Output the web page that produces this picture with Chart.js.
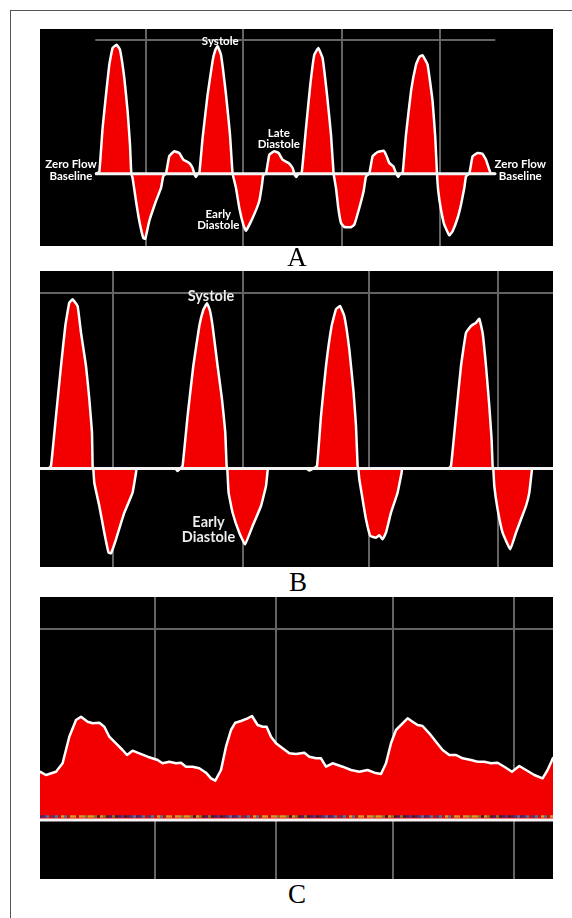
<!DOCTYPE html>
<html>
<head>
<meta charset="utf-8">
<script src="https://cdn.jsdelivr.net/npm/chart.js@4.4.1/dist/chart.umd.min.js"></script>
<style>
  html, body { margin: 0; padding: 0; background: #ffffff; }
  body { width: 572px; height: 918px; position: relative; overflow: hidden; }
  #frame { position: absolute; left: 10px; top: 10px; width: 700px; height: 1000px;
           border-left: 1.5px solid #555; border-top: 1.5px solid #555; }
  canvas { position: absolute; }
  .cap { position: absolute; width: 60px; text-align: center; font-family: "Liberation Serif", "Times New Roman", serif;
         font-size: 27px; line-height: 27px; color: #000; }
</style>
</head>
<body>
<div id="frame"></div>
<canvas id="chartA" width="513" height="217" style="left:40px;top:29px;"></canvas>
<div class="cap" style="left:267px;top:244px;">A</div>
<canvas id="chartB" width="513" height="296" style="left:40px;top:271px;"></canvas>
<div class="cap" style="left:268px;top:569px;">B</div>
<canvas id="chartC" width="513" height="282" style="left:40px;top:597px;"></canvas>
<div class="cap" style="left:267px;top:881px;">C</div>
<script>
// ---------- Panel A : tri-phasic waveform (time, velocity above zero-flow baseline) ----------
const A_t = [56, 59.3, 62.6, 66, 69.3, 72.6, 76.6, 80, 84.3, 87.6, 90, 91.3, 92.6, 96, 99.3, 103.3, 105.3, 109.3, 116, 121, 123.3, 126, 129.3, 134.3, 139.3, 143.3, 149.3, 152.6, 154.3, 156, 157.8, 159.3, 162.6, 167.6, 172.6, 175.3, 177.6, 181, 186, 190, 192.6, 196, 199.3, 203.3, 206, 212.6, 219.3, 222, 223.3, 226, 229.3, 234.3, 238.6, 242.6, 248.6, 252.6, 254.3, 256.3, 258.3, 261.6, 266, 270.3, 274.3, 278.3, 282.6, 287, 291, 293.6, 296, 298.3, 301, 304.3, 311, 314.3, 319.3, 323.6, 326, 329.3, 332.6, 337.6, 343.6, 346, 349.3, 353.3, 356, 358.3, 360.3, 362.6, 366, 371, 376, 379.3, 382.6, 387.6, 392.6, 395.3, 397, 398.3, 401, 404.3, 409.3, 412.6, 417.6, 421, 424.3, 426, 429.3, 432.6, 437.6, 442.6, 446, 449.3, 451, 455.3];
const A_v = [0, 1.7, 45.7, 79, 109, 125.7, 129, 124, 95.7, 62.7, 29, 0, -4.3, -27.3, -47.3, -64.3, -65, -47.3, -27.3, -14.3, -2.3, 0, 17.7, 22.4, 20.7, 14, 10.7, 5.7, 0, -3.3, 0, 0, 35.7, 79, 112.7, 123.7, 127.4, 119, 79, 39, 0, -14.3, -34.3, -51, -57, -44.3, -27.3, -11, -1, 0, 19, 22.4, 20.7, 14, 10.7, 5.7, 0, -3.3, 0, 0, 45.7, 89, 119, 125.7, 115.7, 79, 39, 0, -14.3, -34.3, -49.3, -53.3, -53.6, -51, -34.3, -17.6, -2.6, 0, 17.4, 21.7, 23, 19, 10.7, 7.4, 0.7, -3.3, 0, 0, 39, 82.4, 109, 116.7, 118.4, 109, 72.4, 35.7, 0, -17.6, -36, -51, -61.6, -57.6, -44.3, -31, -14.3, -2.6, 0, 17.4, 20.7, 19.7, 14, 4, 0, 0];
const A_gridT = [106, 203.3, 301.6, 400];
const A_gridV = [134];
const A_lineSpan = [55.3, 455.3];
const A_labels = [
  { text: ["Systole"], t: 180.3, v: 132.4 },
  { text: ["Late", "Diastole"], t: 238.8, v: 40.7 },
  { text: ["Early", "Diastole"], t: 178.3, v: -40.3 },
  { text: ["Zero Flow", "Baseline"], t: 31, v: 9 },
  { text: ["Zero Flow", "Baseline"], t: 480.3, v: 9 }
];

// ---------- Panel B : bi-phasic waveform ----------
const B_t = [0, 8.3, 11, 16, 21, 25.3, 29.3, 32.6, 37.6, 41, 46, 49.3, 52, 52.6, 53.3, 54.3, 59.3, 64.3, 68.6, 71, 76, 84.3, 92.6, 96, 96.8, 135.3, 137.6, 140.3, 142.6, 147.6, 153.3, 159.3, 163.3, 167, 169.8, 172.6, 177.6, 182, 185.3, 186.6, 187.3, 188.6, 192.6, 199.3, 205, 212.6, 221, 226, 227.6, 228.1, 266.3, 269.3, 273.3, 277, 281, 286, 291.6, 296, 300, 304.3, 309.3, 313.6, 316, 317.6, 318.3, 319.3, 322.6, 326, 330.3, 336, 339.3, 342.6, 346, 351, 357.6, 361.6, 362.3, 408.3, 411, 416, 421, 426, 431, 436, 439.3, 442.6, 446, 449.3, 451.6, 452.6, 453.3, 454.3, 457.6, 462.6, 470.3, 476, 481, 486, 489.3, 491.6, 492.3, 513];
const B_v = [0, 0, 2.5, 52.5, 102.5, 142.5, 165.8, 169.2, 162.5, 135.8, 102.5, 69.5, 35.8, 2.5, 0, -14.2, -37.5, -64.2, -84.2, -84.8, -70.8, -44.2, -24.2, -4.2, 0, 0, -2.5, 0, 2.5, 52.5, 102.5, 142.5, 158.5, 165.2, 158.5, 142.5, 102.5, 69.2, 35.8, 2.5, 0, -24.2, -44.2, -64.2, -75.8, -57.5, -37.5, -17.5, -2.5, 0, 0, -2, 0, 2.5, 52.5, 102.5, 142.5, 159.2, 162.5, 152.5, 119.2, 75.8, 42.5, 2.5, 0, -10.8, -30.8, -50.8, -67.5, -69.2, -66.8, -70.8, -64.2, -44.2, -24.2, -4.2, 0, 0, 2.5, 52.5, 102.5, 135.8, 142.5, 145.8, 149.8, 135.8, 102.5, 62.5, 29.2, 2.5, 0, -17.5, -40.8, -64.2, -80.8, -64.2, -50.8, -37.5, -24.2, -4.2, 0, 0];
const B_gridT = [73.3, 202.6, 329.3, 458];
const B_gridV = [175.8];
const B_labels = [
  { text: ["Systole"], t: 171, v: 172.5 },
  { text: ["Early", "Diastole"], t: 168.5, v: -54.2 }
];

// ---------- Panel C : monophasic waveform ----------
const C_t = [0, 6, 16, 22.6, 29.3, 36, 41, 47.6, 52.6, 59.3, 64.3, 69.3, 76, 82.6, 87, 92.6, 99.3, 107.6, 117.6, 122.6, 129.3, 136, 141, 146, 152.6, 159.3, 166, 171, 175.3, 181, 186, 191, 195.3, 201, 207.6, 212, 217.6, 222.6, 226.6, 231, 236, 242.6, 249.3, 256, 264.3, 269.3, 276, 281, 286, 292.6, 302.6, 311, 319.3, 327.6, 334.3, 341, 346, 351, 356, 362.6, 367.6, 372.6, 377.6, 382.6, 389.3, 396, 402.6, 409.3, 416, 422.6, 431, 437.6, 444.3, 451, 457.6, 464.3, 472, 479.3, 486, 494.3, 502.6, 507.6, 513];
const C_v = [48.3, 45, 48.3, 56.7, 83.3, 100, 103.3, 98.3, 96.7, 97.3, 93.3, 83.3, 76.7, 70, 65, 69.3, 66.7, 63.3, 60, 56.7, 58.3, 56.7, 57.3, 53.3, 53.3, 51.7, 47.3, 41.7, 39.3, 50, 73.3, 90, 97.3, 99, 101.7, 104, 95, 93.3, 93.3, 83.3, 76.7, 71.7, 66.7, 66, 67.3, 63.3, 61.7, 61.7, 53.3, 56.7, 53.3, 50, 48.3, 50, 47.3, 46, 56.7, 76.7, 90, 96.7, 101.7, 98.3, 95, 94, 86.7, 78.3, 70, 65, 65, 61.7, 60, 58.3, 58.3, 56.7, 57.3, 53.3, 48.3, 54, 50, 45, 41.7, 50, 62];
const C_gridT = [115, 236, 353.3, 473.6];
const C_gridV = [191];
const C_noiseColors = ["#1a2a8a", "#d8c020", "#20a0b0", "#202020", "#c8c850", "#2040b0", "#50a050", "#a02020"];

function makePanel(id, opt) {
  const pts = opt.t.map((t, i) => ({ x: t, y: opt.v[i] }));
  const decor = {
    id: 'decor_' + id,
    beforeDraw(chart) {
      const { ctx } = chart;
      ctx.save();
      ctx.fillStyle = '#000';
      ctx.fillRect(0, 0, chart.width, chart.height);
      ctx.restore();
    },
    beforeDatasetsDraw(chart) {
      const { ctx, chartArea: a, scales: { x, y } } = chart;
      ctx.save();
      ctx.strokeStyle = '#646464';
      ctx.lineWidth = 2;
      opt.gridT.forEach(g => {
        const px = Math.round(x.getPixelForValue(g));
        ctx.beginPath(); ctx.moveTo(px, a.top); ctx.lineTo(px, a.bottom); ctx.stroke();
      });
      opt.gridV.forEach(g => {
        const py = Math.round(y.getPixelForValue(g));
        const x0 = opt.span ? x.getPixelForValue(opt.span[0]) : a.left;
        const x1 = opt.span ? x.getPixelForValue(opt.span[1]) : a.right;
        ctx.beginPath(); ctx.moveTo(x0, py); ctx.lineTo(x1, py); ctx.stroke();
      });
      ctx.restore();
    },
    afterDatasetsDraw(chart) {
      const { ctx, chartArea: a, scales: { x, y } } = chart;
      ctx.save();
      if (opt.noise) {
        const py = y.getPixelForValue(opt.noise.v);
        ctx.lineWidth = 2.5;
        let k = 0;
        for (let t = x.min; t < x.max; t += 3) {
          ctx.strokeStyle = opt.noise.colors[(k * 5 + (k >> 2)) % opt.noise.colors.length];
          ctx.globalAlpha = 0.75;
          ctx.beginPath();
          ctx.moveTo(x.getPixelForValue(t), py);
          ctx.lineTo(x.getPixelForValue(t + 3), py);
          ctx.stroke();
          k++;
        }
        ctx.globalAlpha = 1;
      }
      // zero-flow baseline
      const by = y.getPixelForValue(0);
      const bx0 = opt.span ? x.getPixelForValue(opt.span[0]) : a.left;
      const bx1 = opt.span ? x.getPixelForValue(opt.span[1]) : a.right;
      ctx.strokeStyle = '#f4f4f4';
      ctx.lineWidth = 3;
      ctx.beginPath(); ctx.moveTo(bx0, by); ctx.lineTo(bx1, by); ctx.stroke();
      // labels
      if (opt.labels) {
        ctx.fillStyle = opt.labelColor;
        ctx.font = 'bold ' + opt.fontSize + 'px Lato, "Open Sans", sans-serif';
        ctx.textAlign = 'center';
        ctx.textBaseline = 'middle';
        opt.labels.forEach(l => {
          const px = x.getPixelForValue(l.t);
          const py = y.getPixelForValue(l.v);
          l.text.forEach((s, i) => ctx.fillText(s, px, py + i * opt.lineH));
        });
      }
      ctx.restore();
    }
  };
  return new Chart(document.getElementById(id), {
    type: 'line',
    data: {
      datasets: [{
        data: pts,
        fill: 'origin',
        backgroundColor: '#f20000',
        borderColor: '#ffffff',
        borderWidth: 2.5,
        borderJoinStyle: 'round',
        borderCapStyle: 'round',
        pointRadius: 0,
        tension: opt.tension
      }]
    },
    options: {
      responsive: false,
      animation: false,
      events: [],
      layout: { padding: 0 },
      plugins: { legend: { display: false }, tooltip: { enabled: false } },
      scales: {
        x: { type: 'linear', min: 0, max: 513, display: false },
        y: { type: 'linear', min: opt.vMin, max: opt.vMax, display: false }
      }
    },
    plugins: [decor]
  });
}

makePanel('chartA', { t: A_t, v: A_v, vMin: -72.3, vMax: 144.7, gridT: A_gridT, gridV: A_gridV,
  span: A_lineSpan, labels: A_labels, fontSize: 11.5, lineH: 11.5, labelColor: '#ffffff', tension: 0.1 });
makePanel('chartB', { t: B_t, v: B_v, vMin: -98.5, vMax: 197.5, gridT: B_gridT, gridV: B_gridV,
  span: null, labels: B_labels, fontSize: 14.5, lineH: 15, labelColor: '#ececec', tension: 0.1 });
makePanel('chartC', { t: C_t, v: C_v, vMin: -59, vMax: 223, gridT: C_gridT, gridV: C_gridV,
  span: null, labels: null, noise: { v: 3.5, colors: C_noiseColors }, tension: 0 });
</script>
</body>
</html>
